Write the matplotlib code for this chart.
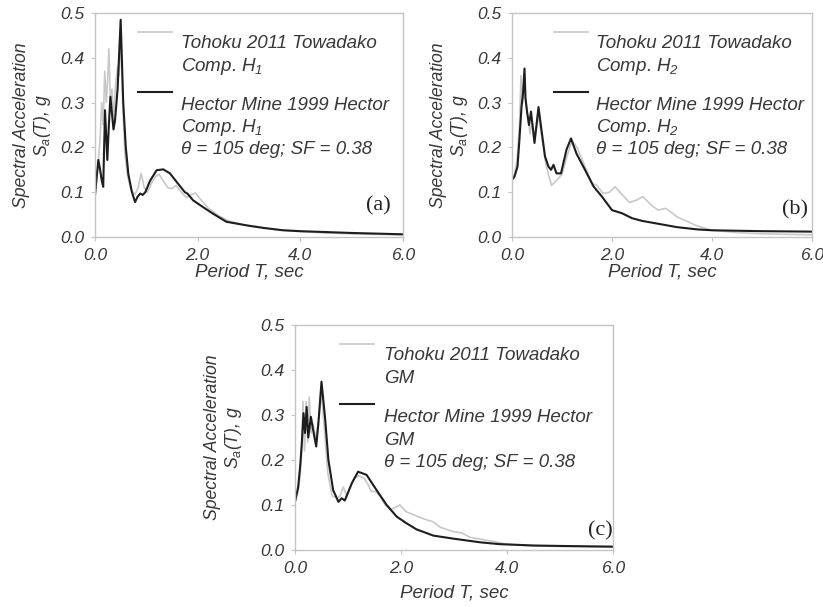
import numpy as np
import matplotlib.pyplot as plt

plt.rcParams["font.family"] = ["Liberation Sans", "DejaVu Sans"]
plt.rcParams["font.style"] = "italic"
plt.rcParams["mathtext.fontset"] = "custom"
plt.rcParams["mathtext.it"] = "Liberation Sans:italic"
plt.rcParams["mathtext.rm"] = "Liberation Sans:italic"
plt.rcParams["mathtext.default"] = "it"

# (a) component H1
t_a_toh = [0, 0.05, 0.1, 0.13, 0.16, 0.19, 0.22, 0.25, 0.27, 0.3, 0.33, 0.36, 0.4, 0.44, 0.47, 0.5,
           0.54, 0.58, 0.63, 0.7, 0.78, 0.84, 0.9, 0.96, 1.02, 1.1, 1.18, 1.25, 1.33, 1.42, 1.5, 1.58,
           1.68, 1.78, 1.88, 1.96, 2.05, 2.2, 2.4, 2.6, 2.8, 3.0, 3.3, 3.6, 4.0, 4.5, 5.0, 5.5, 6.0]
sa_a_toh = [0.09, 0.15, 0.22, 0.30, 0.25, 0.37, 0.30, 0.36, 0.42, 0.30, 0.33, 0.26, 0.34, 0.38, 0.36, 0.46,
            0.30, 0.19, 0.14, 0.105, 0.095, 0.11, 0.142, 0.11, 0.10, 0.12, 0.135, 0.14, 0.125, 0.11, 0.108, 0.115,
            0.10, 0.088, 0.095, 0.098, 0.085, 0.065, 0.048, 0.036, 0.03, 0.025, 0.02, 0.016, 0.012, 0.009, 0.007, 0.006, 0.005]
t_a_hec = [0, 0.03, 0.065, 0.1, 0.13, 0.16, 0.195, 0.24, 0.27, 0.3, 0.36, 0.39, 0.44, 0.5, 0.55, 0.6,
           0.65, 0.72, 0.78, 0.83, 0.88, 0.93, 0.98, 1.07, 1.2, 1.33, 1.46, 1.59, 1.75, 1.8, 1.91, 2.1,
           2.3, 2.56, 2.95, 3.3, 3.66, 4.0, 4.5, 5.0, 5.5, 6.0]
sa_a_hec = [0.093, 0.13, 0.172, 0.15, 0.127, 0.112, 0.283, 0.172, 0.25, 0.313, 0.24, 0.26, 0.33, 0.485, 0.30, 0.20,
            0.14, 0.10, 0.078, 0.09, 0.097, 0.094, 0.10, 0.125, 0.149, 0.151, 0.142, 0.123, 0.10, 0.097, 0.082, 0.067,
            0.052, 0.034, 0.026, 0.02, 0.015, 0.013, 0.011, 0.009, 0.0075, 0.006]

# (b) component H2
t_b_toh = [0, 0.05, 0.1, 0.15, 0.18, 0.21, 0.25, 0.28, 0.32, 0.36, 0.4, 0.45, 0.53, 0.6, 0.68, 0.79, 0.88,
           1.0, 1.1, 1.2, 1.3, 1.45, 1.6, 1.7, 1.82, 1.95, 2.06, 2.2, 2.35, 2.5, 2.62, 2.78, 2.92, 3.08,
           3.3, 3.5, 3.7, 4.0, 4.5, 5.0, 6.0]
sa_b_toh = [0.13, 0.14, 0.17, 0.25, 0.36, 0.3, 0.33, 0.3, 0.27, 0.23, 0.26, 0.22, 0.27, 0.22, 0.16, 0.115, 0.125,
            0.14, 0.18, 0.215, 0.2, 0.16, 0.12, 0.115, 0.097, 0.1, 0.112, 0.095, 0.077, 0.083, 0.09, 0.072, 0.06, 0.064,
            0.045, 0.035, 0.025, 0.015, 0.01, 0.007, 0.005]
t_b_hec = [0, 0.05, 0.11, 0.15, 0.19, 0.22, 0.25, 0.27, 0.3, 0.34, 0.38, 0.45, 0.53, 0.6, 0.66, 0.73, 0.78,
           0.83, 0.89, 0.98, 1.09, 1.18, 1.29, 1.46, 1.63, 1.8, 2.0, 2.2, 2.4, 2.6, 2.9, 3.3, 3.7, 4.0,
           4.5, 5.0, 6.0]
sa_b_hec = [0.127, 0.135, 0.157, 0.22, 0.29, 0.32, 0.376, 0.31, 0.28, 0.25, 0.28, 0.21, 0.29, 0.23, 0.18, 0.157, 0.15,
            0.161, 0.142, 0.142, 0.195, 0.22, 0.186, 0.15, 0.113, 0.09, 0.06, 0.053, 0.042, 0.036, 0.03, 0.022, 0.017, 0.015,
            0.014, 0.013, 0.012]

# (c) geometric mean
t_c_toh = [0, 0.06, 0.1, 0.13, 0.15, 0.18, 0.21, 0.24, 0.27, 0.3, 0.34, 0.38, 0.42, 0.46, 0.5, 0.56, 0.62,
           0.7, 0.8, 0.85, 0.91, 0.98, 1.05, 1.12, 1.2, 1.3, 1.38, 1.44, 1.52, 1.6, 1.7, 1.8, 1.9, 1.98,
           2.1, 2.3, 2.48, 2.6, 2.75, 2.98, 3.15, 3.3, 3.7, 4.0, 4.5, 5.0, 6.0]
sa_c_toh = [0.107, 0.13, 0.17, 0.22, 0.33, 0.22, 0.33, 0.24, 0.34, 0.26, 0.28, 0.25, 0.27, 0.3, 0.35, 0.26, 0.17,
            0.12, 0.115, 0.12, 0.14, 0.12, 0.14, 0.16, 0.165, 0.16, 0.145, 0.13, 0.13, 0.12, 0.1, 0.09, 0.095, 0.1,
            0.085, 0.075, 0.067, 0.063, 0.05, 0.041, 0.038, 0.028, 0.02, 0.013, 0.009, 0.008, 0.006]
t_c_hec = [0, 0.06, 0.1, 0.13, 0.16, 0.19, 0.22, 0.25, 0.3, 0.36, 0.4, 0.44, 0.5, 0.57, 0.63, 0.72, 0.82,
           0.88, 0.94, 1.07, 1.19, 1.35, 1.54, 1.73, 1.92, 2.11, 2.29, 2.61, 3.0, 3.5, 3.86, 4.5, 5.0, 6.0]
sa_c_hec = [0.107, 0.14, 0.19, 0.24, 0.304, 0.26, 0.318, 0.25, 0.296, 0.255, 0.23, 0.28, 0.374, 0.29, 0.2, 0.133, 0.107,
            0.115, 0.11, 0.148, 0.174, 0.167, 0.133, 0.1, 0.074, 0.059, 0.046, 0.032, 0.025, 0.017, 0.013, 0.01, 0.009, 0.0075]

x_ticks = [0, 2, 4, 6]
y_ticks = [0, 0.1, 0.2, 0.3, 0.4, 0.5]

TXT = "#383838"
SPINE = "#c4c4c4"


def panel(rect, t_toh, sa_toh, t_hec, sa_hec, comp, letter, letter_xy, ylab_x, xpad):
    ax = fig.add_axes(rect)
    l1, = ax.plot(t_toh, sa_toh, color="#c8c8c8", lw=1.2)
    l2, = ax.plot(t_hec, sa_hec, color="#1e1e1e", lw=1.5)
    ax.set_xlim(0, 6)
    ax.set_ylim(0, 0.5)
    ax.set_xticks(x_ticks)
    ax.set_yticks(y_ticks)
    ax.set_xticklabels([f"{v:.1f}" for v in x_ticks])
    ax.set_yticklabels([f"{v:.1f}" for v in y_ticks])
    for s in ax.spines.values():
        s.set_color(SPINE)
        s.set_linewidth(1.0)
    ax.tick_params(length=3, width=0.8, color=SPINE, labelsize=12.5, labelcolor=TXT, pad=5)
    ax.set_xlabel("Period T, sec", fontsize=13.5, color=TXT, labelpad=xpad)
    ax.set_ylabel("Spectral Acceleration\n$S_a(T)$, g", fontsize=12.7, color=TXT, linespacing=1.15)
    ax.yaxis.set_label_coords(ylab_x, 0.5)

    # legend keeps only the line samples; the wrapped captions are placed line by line
    ax.legend([l1, l2], ["", ""], loc="upper left", bbox_to_anchor=(0.14, 0.946),
              frameon=False, handlelength=1.9, handletextpad=0, borderpad=0,
              borderaxespad=0, labelspacing=2.4, fontsize=13)
    lines = ["Tohoku 2011 Towadako", comp, "Hector Mine 1999 Hector", comp,
             "\u03b8 = 105 deg; SF = 0.38"]
    ys = [35, 58, 97, 119, 141]
    for txt, y in zip(lines, ys):
        ax.text(0.28, 1 - y / 224, txt, transform=ax.transAxes, fontsize=13.5,
                color=TXT, va="baseline", ha="left")
    ax.text(letter_xy[0], letter_xy[1], letter, transform=ax.transAxes,
            fontsize=16, family="Liberation Serif", style="normal",
            color="#222222", ha="center", va="center")
    return ax


fig = plt.figure(figsize=(8.23, 6.07), dpi=100)

panel([95 / 823, 370 / 607, 308 / 823, 224 / 607], t_a_toh, sa_a_toh, t_a_hec, sa_a_hec,
      "Comp. $H_1$", "(a)", (0.919, 0.138), -0.137, 0)
panel([512 / 823, 370 / 607, 300 / 823, 224 / 607], t_b_toh, sa_b_toh, t_b_hec, sa_b_hec,
      "Comp. $H_2$", "(b)", (0.943, 0.12), -0.14, 0)
panel([295 / 823, 57 / 607, 318 / 823, 225 / 607], t_c_toh, sa_c_toh, t_c_hec, sa_c_hec,
      "GM", "(c)", (0.959, 0.084), -0.161, 6)

fig.savefig("out.png", dpi=100)
